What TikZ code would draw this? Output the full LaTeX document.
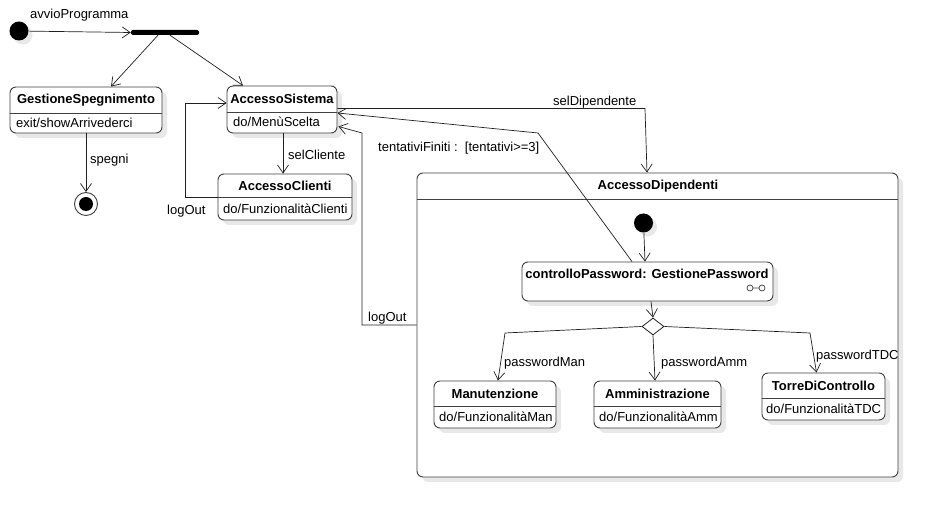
\documentclass[tikz,border=0pt]{standalone}
\usepackage{fontspec}
\setmainfont{Liberation Sans}
\usetikzlibrary{arrows.meta,calc,shapes.geometric,shadows}
\definecolor{lc}{HTML}{404040}
\definecolor{ac}{HTML}{202020}
\tikzset{
  sbox/.style={draw=lc, rounded corners=6pt, fill=white, line width=0.9pt, inner sep=0pt,
    drop shadow={fill=black!9, opacity=1, shadow xshift=5pt, shadow yshift=-5pt}},
  ttl/.style={font=\fontsize{13}{15}\selectfont\bfseries, inner sep=0pt},
  txt/.style={inner sep=0pt, anchor=west},
  lbl/.style={inner sep=0pt, anchor=west},
  divl/.style={draw=lc, line width=0.9pt},
  arr/.style={draw=ac, line width=0.7pt, -{Straight Barb[length=8pt,width=11pt]}},
  dot/.style={circle, fill=black, inner sep=0pt, minimum size=19pt,
    drop shadow={fill=black!9, opacity=1, shadow xshift=4pt, shadow yshift=-4pt}},
}
\begin{document}
\begin{tikzpicture}[x=1pt,y=-1pt,font=\fontsize{13}{15}\selectfont]
\useasboundingbox[fill=white] (0,0) rectangle (938,518);

% initial + fork bar
\node[dot] (init) at (19,31) {};
\node[fill=black, rounded corners=2pt, minimum width=68pt, minimum height=5pt, inner sep=0pt] (bar) at (165,32.5) {};

% GestioneSpegnimento
\node[sbox, minimum width=152pt, minimum height=46pt] (gs) at (86,110) {};
\draw[divl] (gs.west |- 0,113) -- (gs.east |- 0,113);
\node[ttl] (gst) at (86,100) {GestioneSpegnimento};
\node[txt] (gsd) at (16,123) {exit/showArrivederci};

% final state
\node[circle, draw=lc, line width=0.9pt, fill=white, minimum size=23pt, inner sep=0pt] (fin) at (86,204) {};
\node[circle, fill=black, minimum size=14pt, inner sep=0pt] (fini) at (fin) {};

% AccessoSistema
\node[sbox, minimum width=110pt, minimum height=47pt] (as) at (282,109.5) {};
\draw[divl] (as.west |- 0,112) -- (as.east |- 0,112);
\node[ttl] (ast) at (282,99) {AccessoSistema};
\node[txt] (asd) at (233,122) {do/MenùScelta};

% AccessoClienti
\node[sbox, minimum width=134pt, minimum height=46pt] (acl) at (285,197) {};
\draw[divl] (acl.west |- 0,197) -- (acl.east |- 0,197);
\node[ttl] (aclt) at (285,186) {AccessoClienti};
\node[txt] (acld) at (223,209) {do/FunzionalitàClienti};

% AccessoDipendenti
\node[sbox, minimum width=481pt, minimum height=304pt] (ad) at (657.5,325) {};
\draw[divl] (ad.west |- 0,199) -- (ad.east |- 0,199);
\node[ttl] (adt) at (658,186) {AccessoDipendenti};

% inner initial
\node[dot] (init2) at (643.5,223) {};

% controlloPassword
\node[sbox, minimum width=251pt, minimum height=39pt] (cp) at (647.5,281.5) {};
\node[ttl] (cpt) at (647,274) {controlloPassword: GestionePassword};
\draw[lc, line width=0.7pt] (750,288) circle (3pt) (762,288) circle (3pt) (753,288) -- (759,288);

% decision
\node[diamond, draw=ac, line width=0.8pt, fill=white, minimum width=22pt, minimum height=17pt, inner sep=0pt] (dec) at (653,326.5) {};

% Manutenzione
\node[sbox, minimum width=122pt, minimum height=47pt] (man) at (495,404.5) {};
\draw[divl] (man.west |- 0,406) -- (man.east |- 0,406);
\node[ttl] (mant) at (495,394) {Manutenzione};
\node[txt] (mand) at (439,417) {do/FunzionalitàMan};

% Amministrazione
\node[sbox, minimum width=127pt, minimum height=47pt] (amm) at (657.5,404.5) {};
\draw[divl] (amm.west |- 0,406) -- (amm.east |- 0,406);
\node[ttl] (ammt) at (657.5,394) {Amministrazione};
\node[txt] (ammd) at (599,417) {do/FunzionalitàAmm};

% TorreDiControllo
\node[sbox, minimum width=123pt, minimum height=47pt] (tdc) at (823.5,396.5) {};
\draw[divl] (tdc.west |- 0,398) -- (tdc.east |- 0,398);
\node[ttl] (tdct) at (823.5,386) {TorreDiControllo};
\node[txt] (tdcd) at (766,409) {do/FunzionalitàTDC};

% connectors
\draw[arr] (init) -- (bar.west);
\draw[arr] ($(bar.south)+(-7,0)$) -- ($(gs.north)+(25,0)$);
\draw[arr] ($(bar.south)+(5,0)$) -- ($(as.north)+(-39,0)$);
\draw[arr] (gs.south) -- (fin.north);
\draw[arr] ($(as.south)+(1,0)$) -- ($(acl.north)+(-2,0)$);
\coordinate (lo1) at (185,197);
\draw[arr] (acl.west) -- (lo1) |- ($(as.west)+(0,-6.5)$);
\coordinate (sd) at (645,108.5);
\draw[arr] ($(as.east)+(0,-1)$) -- (sd) -- ($(ad.north)+(-10.5,0)$);
\coordinate (tf) at (538,133);
\draw[arr] ($(cp.north)+(-15.5,0)$) -- (tf) -- ($(as.east)+(0,3.5)$);
\coordinate (lo2) at (362,325);
\coordinate (lo3) at (362,133);
\draw[arr] (ad.west) -- (lo2) -- (lo3) -- ($(as.east)+(1,17)$);
\draw[arr] (init2) -- ($(cp.north)+(-2.5,0)$);
\draw[arr] ($(cp.south)+(3.5,0)$) -- (dec.north);
\coordinate (bm) at (505,333);
\draw[arr] (dec.west) -- (bm) -- ($(man.north)+(3,0)$);
\draw[arr] (dec.south) -- ($(amm.north)+(-2.5,0)$);
\coordinate (bt) at (810,333);
\draw[arr] (dec.east) -- (bt) -- ($(tdc.north)+(-7,0)$);

% labels
\node[lbl] (l1) at (30,15) {avvioProgramma};
\node[lbl] (l2) at (90,160) {spegni};
\node[lbl] (l3) at (288,155) {selCliente};
\node[lbl] (l4) at (167,211) {logOut};
\node[lbl] (l5) at (553,102) {selDipendente};
\node[lbl] (l6) at (378,148) {tentativiFiniti :\ \ [tentativi>=3]};
\node[lbl] (l7) at (368,318) {logOut};
\node[lbl] (l8) at (504,363) {passwordMan};
\node[lbl] (l9) at (661,363) {passwordAmm};
\node[lbl] (l10) at (816,356) {passwordTDC};
\end{tikzpicture}
\end{document}
